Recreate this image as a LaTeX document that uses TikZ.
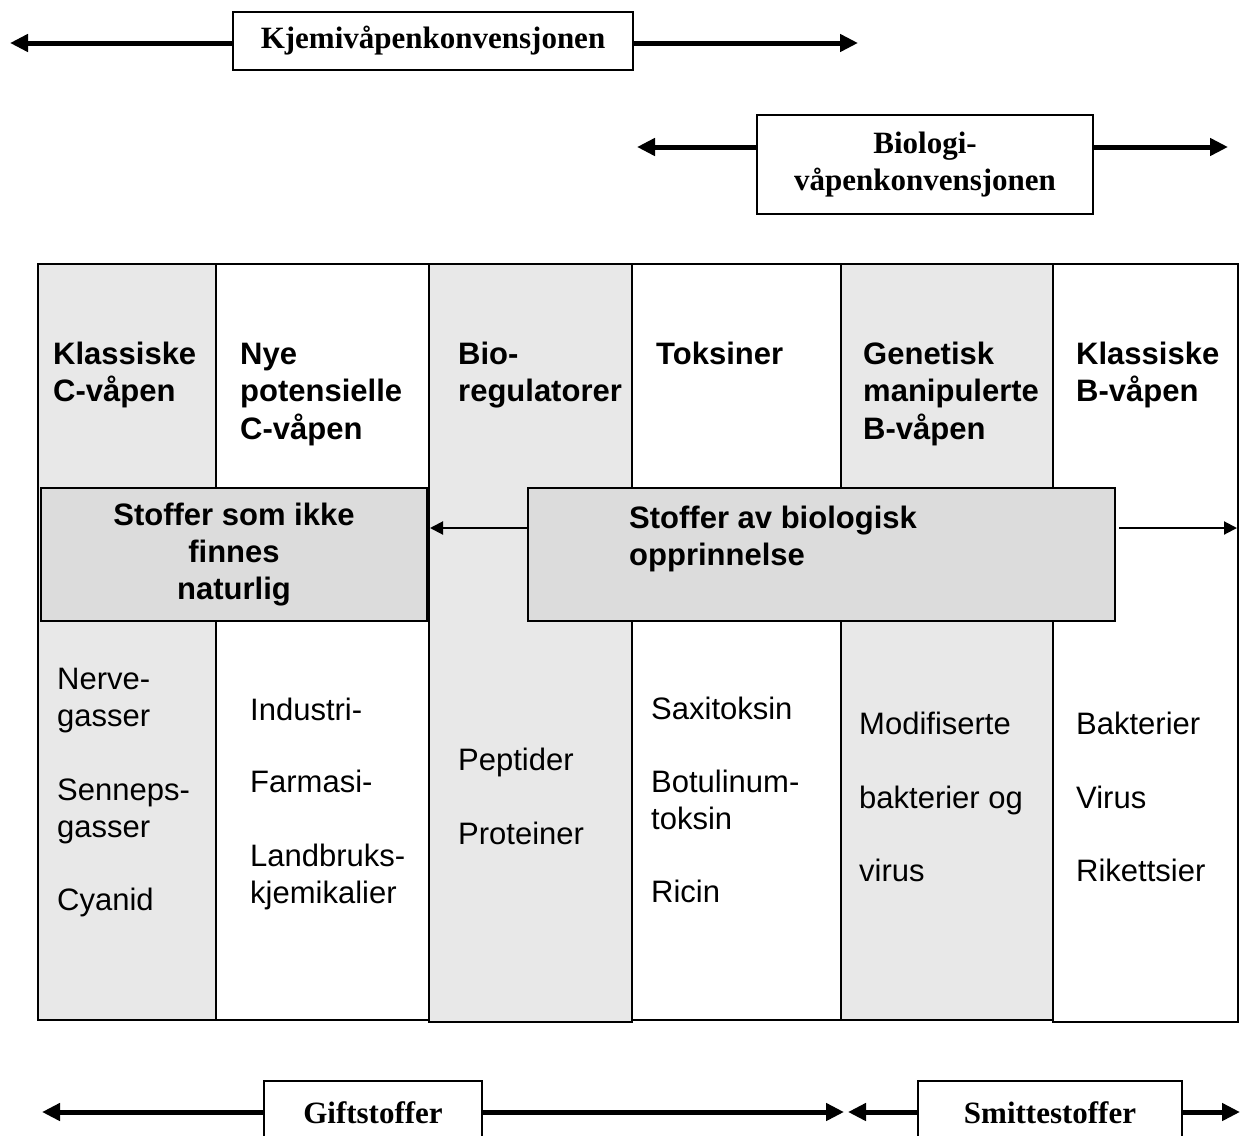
\documentclass[tikz,border=0pt]{standalone}
\usepackage{fontspec}
\setmainfont{Liberation Serif}
\setsansfont{Liberation Sans}
\usepackage{tikz}
\usetikzlibrary{arrows.meta,calc}
\definecolor{kolgray}{HTML}{E8E8E8}
\definecolor{boxgray}{HTML}{DCDCDC}
\tikzset{
  konv/.style={draw, line width=2pt, fill=white, inner sep=0pt, align=center,
    font=\bfseries\fontsize{31}{37}\selectfont},
  pil/.style={line width=5pt, -{Triangle[length=18pt,width=17pt]}},
  tynnpil/.style={line width=2pt, -{Triangle[length=13pt,width=13pt]}},
  kol/.style={draw, line width=2.5pt},
  gruppe/.style={draw, line width=2pt, fill=boxgray, inner sep=0pt},
  hode/.style={font=\sffamily\bfseries\fontsize{31}{37.5}\selectfont, align=left,
    inner sep=0pt, anchor=base west},
  liste/.style={font=\sffamily\fontsize{31}{37}\selectfont, align=left,
    inner sep=0pt, anchor=base west}
}
\begin{document}
\begin{tikzpicture}[x=1pt,y=-1pt]
\useasboundingbox (0,0) rectangle (1246,1135);
\clip (0,0) rectangle (1246,1135);
% kolonnene
\draw[kol, fill=kolgray] (38,264) rectangle (216,1020);
\draw[kol, fill=white] (216,264) rectangle (429,1020);
\draw[kol, fill=kolgray] (429,264) rectangle (632,1022);
\draw[kol, fill=white] (632,264) rectangle (841,1020);
\draw[kol, fill=kolgray] (841,264) rectangle (1053,1020);
\draw[kol, fill=white] (1053,264) rectangle (1238,1022);
% overskrifter (base = siste linje)
\node[hode] (klassc) at (53,401.5) {Klassiske\\C-våpen};
\node[hode] (nyec) at (240,439) {Nye\\potensielle\\C-våpen};
\node[hode] (bioreg) at (458,401.5) {Bio-\\regulatorer};
\node[hode] (toks) at (656,364) {Toksiner};
\node[hode] (genb) at (863,439) {Genetisk\\manipulerte\\B-våpen};
\node[hode] (klassb) at (1076,401.5) {Klassiske\\B-våpen};
% grupper
\node[gruppe, minimum width=386pt, minimum height=133pt, align=center,
  font=\sffamily\bfseries\fontsize{31}{37}\selectfont] (ikkenat) at (234,554.5)
  {Stoffer som ikke\\finnes\\naturlig};
\node[gruppe, minimum width=587pt, minimum height=133pt] (biol) at (821.5,554.5) {};
\node[hode] (biolt) at (629,565.5) {Stoffer av biologisk\\opprinnelse};
\coordinate (midv) at (430,528);
\coordinate (midh) at (1237,528);
\draw[tynnpil] (midv -| biol.west) -- (midv);
\draw[tynnpil] ($(midh -| biol.east)+(3,0)$) -- (midh);
% eksempler
\node[liste] (klassliste) at (57,910) {Nerve-\\gasser\\[37pt]Senneps-\\gasser\\[36pt]Cyanid};
\node[liste] (nyeliste) at (250,903) {Industri-\\[35pt]Farmasi-\\[37pt]Landbruks-\\kjemikalier};
\node[liste] (bioliste) at (458,844) {Peptider\\[37pt]Proteiner};
\node[liste] (toksliste) at (651,902) {Saxitoksin\\[36pt]Botulinum-\\toksin\\[36pt]Ricin};
\node[liste] (genliste) at (859,881) {Modifiserte\\[37pt]bakterier og\\[36pt]virus};
\node[liste] (bliste) at (1076,881) {Bakterier\\[37pt]Virus\\[36pt]Rikettsier};
% konvensjonene
\node[konv, minimum width=400pt, minimum height=58pt] (kjemi) at (433,41) {Kjemivåpenkonvensjonen};
\coordinate (kjv) at (10,43);
\coordinate (kjh) at (858,43);
\draw[pil] (kjv -| kjemi.west) -- (kjv);
\draw[pil] (kjh -| kjemi.east) -- (kjh);
\node[konv, minimum width=336pt, minimum height=99pt] (biokonv) at (925,164.5) {Biologi-\\våpenkonvensjonen};
\coordinate (bkv) at (637,147);
\coordinate (bkh) at (1228,147);
\draw[pil] (bkv -| biokonv.west) -- (bkv);
\draw[pil] (bkh -| biokonv.east) -- (bkh);
% gift og smitte
\node[konv, minimum width=218pt, minimum height=64pt] (gift) at (373,1113) {Giftstoffer};
\node[konv, minimum width=264pt, minimum height=64pt] (smitte) at (1050,1113) {Smittestoffer};
\coordinate (gv) at (42,1112);
\coordinate (gh) at (844,1112);
\coordinate (sv) at (848,1112);
\coordinate (sh) at (1240,1112);
\draw[pil] (gv -| gift.west) -- (gv);
\draw[pil] (gh -| gift.east) -- (gh);
\draw[pil] (sv -| smitte.west) -- (sv);
\draw[pil] (sh -| smitte.east) -- (sh);
\end{tikzpicture}
\end{document}
